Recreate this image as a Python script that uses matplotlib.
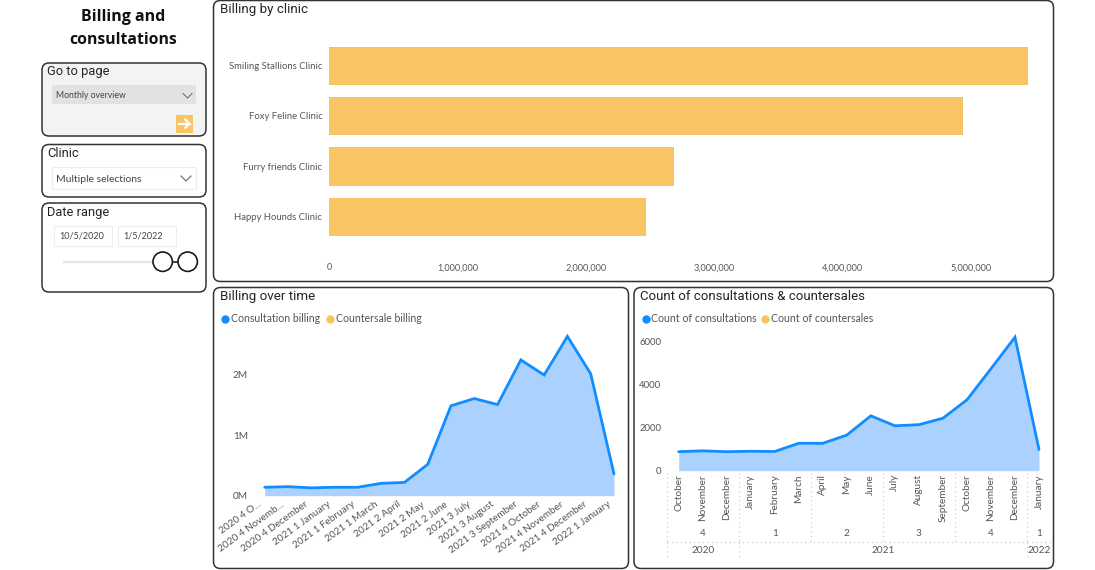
import matplotlib
matplotlib.use("Agg")
import matplotlib.pyplot as plt
from matplotlib.patches import FancyBboxPatch, Rectangle, Circle
from matplotlib.transforms import ScaledTranslation

W, H = 1095, 570
BLUE = "#118DFF"
FILL = "#ABD2FE"
GOLD = "#F7C564"
GOLD_EDGE = "#F5BE55"
TXT = "#555555"
DARK = "#252423"
TFONT = "Roboto"
BFONT = "Lato"

clinics = ["Happy Hounds Clinic", "Furry friends Clinic", "Foxy Feline Clinic", "Smiling Stallions Clinic"]
clinic_billing = [2457000, 2675000, 4930000, 5437000]
billing_ticks = [0, 1000000, 2000000, 3000000, 4000000, 5000000]

period_labels = ["2020 4 O...", "2020 4 Novemb...", "2020 4 December", "2021 1 January", "2021 1 February",
                 "2021 1 March", "2021 2 April", "2021 2 May", "2021 2 June", "2021 3 July", "2021 3 August",
                 "2021 3 September", "2021 4 October", "2021 4 November", "2021 4 December", "2022 1 January"]
billing_m = [0.14, 0.15, 0.13, 0.14, 0.14, 0.205, 0.22, 0.52, 1.49, 1.61, 1.51, 2.25, 2.0, 2.64, 2.02, 0.36]

months = ["October", "November", "December", "January", "February", "March", "April", "May", "June", "July",
          "August", "September", "October", "November", "December", "January"]
consultations = [880, 920, 880, 900, 890, 1270, 1270, 1650, 2540, 2080, 2130, 2430, 3280, 4720, 6180, 980]
quarters = [("4", 0, 2), ("1", 3, 5), ("2", 6, 8), ("3", 9, 11), ("4", 12, 14), ("1", 15, 15)]
years = [("2020", 0, 2), ("2021", 3, 14), ("2022", 15, 15)]

fig = plt.figure(figsize=(W / 100, H / 100), dpi=100, facecolor="white")
bg = fig.add_axes([0, 0, 1, 1])
bg.set_xlim(0, W); bg.set_ylim(H, 0); bg.axis("off")


def panel(x0, y0, x1, y1, face="white", r=7):
    bg.add_patch(FancyBboxPatch((x0 + r, y0 + r), x1 - x0 - 2 * r, y1 - y0 - 2 * r,
                                boxstyle=f"round,pad={r},rounding_size={r}", fc=face, ec="#333333", lw=1.1))


def axes_px(x0, y0, x1, y1):
    ax = fig.add_axes([x0 / W, 1 - y1 / H, (x1 - x0) / W, (y1 - y0) / H])
    ax.patch.set_alpha(0)
    for s in ax.spines.values():
        s.set_visible(False)
    return ax


def label(x, y, s, size=8, color=TXT, font=BFONT, **kw):
    kw.setdefault("va", "center")
    bg.text(x, y, s, fontsize=size, color=color, family=font, **kw)


# side column
label(123.5, 17, "Billing and", 11.5, "#111111", "Open Sans", ha="center", fontweight="bold")
label(123.5, 40, "consultations", 11.3, "#111111", "Open Sans", ha="center", fontweight="bold")

panel(42, 63, 206, 136, face="#F3F3F3")
label(47, 72, "Go to page", 9.3, DARK, TFONT)
bg.add_patch(Rectangle((51.5, 85), 144.5, 19, fc="#E2E2E2", ec="none"))
label(56, 96, "Monthly overview", 6.2, "#444444")
bg.plot([183, 187.5, 192], [93.5, 98, 93.5], color="#666666", lw=0.7)
bg.add_patch(Rectangle((175.5, 115), 17, 17.5, fc=GOLD, ec="none"))
bg.plot([178.5, 189.5], [123.7, 123.7], color="white", lw=1.6)
bg.plot([185.3, 189.5, 185.3], [119.6, 123.7, 127.8], color="white", lw=1.6)

panel(42, 144.5, 206, 197)
label(47, 153.5, "Clinic", 9.3, DARK, TFONT)
bg.add_patch(Rectangle((51.5, 167), 144, 21.5, fc="white", ec="#EDEDED", lw=0.8))
label(56, 179.5, "Multiple selections", 7.5, "#444444")
bg.plot([181, 186, 191], [176, 181, 176], color="#666666", lw=0.8)

panel(42, 203, 206, 292)
label(47, 212.5, "Date range", 9.3, DARK, TFONT)
bg.add_patch(Rectangle((54, 225.5), 58, 20, fc="white", ec="#EDEDED", lw=0.8))
bg.add_patch(Rectangle((117.5, 225.5), 58, 20, fc="white", ec="#EDEDED", lw=0.8))
label(59.7, 236, "10/5/2020", 6.5, "#444444")
label(123, 236, "1/5/2022", 6.5, "#444444")
bg.plot([64, 160], [261.5, 261.5], color="#E6E6E6", lw=1.6, zorder=1)
bg.plot([170, 182], [261.5, 261.5], color="#222222", lw=1.2, zorder=1)
bg.add_patch(Circle((162.7, 261.7), 9.7, fc="white", ec="#1a1a1a", lw=1.2, zorder=2))
bg.add_patch(Circle((187.7, 261.7), 9.7, fc="white", ec="#1a1a1a", lw=1.2, zorder=2))

# top bar panel
panel(213.5, 0.5, 1053.5, 281.5)
label(220.5, 9.5, "Billing by clinic", 9.6, DARK, TFONT)
ax1 = axes_px(329.2, 40.1, 1040, 241.7)
ax1.barh(range(len(clinics)), clinic_billing, height=0.745, color=GOLD, edgecolor=GOLD_EDGE, linewidth=0.6)
ax1.set_xlim(0, 710.8 / 128.4 * 1e6)
ax1.set_ylim(-0.5, 3.5)
ax1.set_yticks(range(len(clinics)), clinics)
ax1.set_xticks(billing_ticks, [f"{v:,}" for v in billing_ticks])
ax1.tick_params(length=0, labelsize=6.85, labelcolor=TXT)
ax1.tick_params(axis="y", pad=5)
ax1.tick_params(axis="x", pad=15.5, labelsize=6.6)
for t in ax1.get_xticklabels() + ax1.get_yticklabels():
    t.set_family(BFONT)


def area(ax, values):
    xs = list(range(len(values)))
    ax.fill_between(xs, values, 0, color=FILL, lw=0)
    ax.plot(xs, values, color=BLUE, lw=2, solid_joinstyle="miter", solid_capstyle="round", clip_on=False)
    ax.set_xlim(0, len(values) - 1)
    ax.set_ylim(0, None)


def legend(y, items):
    for cx, tx, s, c in items:
        bg.plot([cx], [y], "o", ms=6, color=c, mec="none")
        label(tx, y, s, 7.6, "#555555")


# billing over time
panel(213.5, 287.5, 628.5, 568.5)
label(220.5, 296.5, "Billing over time", 9.6, DARK, TFONT)
legend(318.5, [(225, 230.7, "Consultation billing", BLUE), (329.7, 335.5, "Countersale billing", GOLD)])
ax2 = axes_px(264.7, 332, 614, 495.7)
area(ax2, billing_m)
ax2.set_ylim(0, 163.7 / 60.35)
ax2.set_yticks([0, 1, 2], ["0M", "1M", "2M"])
ax2.set_xticks(range(len(period_labels)), period_labels, rotation=36, ha="right", rotation_mode="anchor")
ax2.tick_params(length=0, labelsize=7.2, labelcolor=TXT)
ax2.tick_params(axis="y", pad=12)
ax2.tick_params(axis="x", pad=3)
shift = ScaledTranslation(-5 / 72, 0, fig.dpi_scale_trans)
for t in ax2.get_xticklabels():
    t.set_transform(t.get_transform() + shift)
for t in ax2.get_xticklabels() + ax2.get_yticklabels():
    t.set_family(BFONT)

# counts
panel(634, 287.5, 1053.5, 568.5)
label(640.5, 296.5, "Count of consultations & countersales", 9.5, DARK, TFONT)
legend(318.5, [(645.5, 651, "Count of consultations", BLUE), (765, 771, "Count of countersales", GOLD)])
ax3 = axes_px(678.7, 332, 1039, 470.7)
area(ax3, consultations)
ax3.set_ylim(0, 138.7 / 43.2 * 2000)
ax3.set_yticks([0, 2000, 4000, 6000], ["0", "2000", "4000", "6000"])
ax3.set_xticks(range(len(months)), months, rotation=90, ha="center", va="top")
ax3.tick_params(length=0, labelsize=7.2, labelcolor=TXT)
ax3.tick_params(axis="y", pad=12.5, labelsize=6.9)
ax3.tick_params(axis="x", pad=2.5)
for t in ax3.get_xticklabels() + ax3.get_yticklabels():
    t.set_family(BFONT)

# hierarchical axis, x in category units via blended transform
tr = ax3.get_xaxis_transform()
px = lambda y: 1 - (y - 332) / (470.7 - 332)
dot = dict(color="#C4C4C4", lw=0.8, ls=(0, (1, 3)), transform=tr, clip_on=False)
for i in [-0.5, 2.5, 5.5, 8.5, 11.5, 14.5]:
    ax3.plot([i, i], [px(473), px(541.5)], **dot)
for i in [-0.5, 2.5, 14.5]:
    ax3.plot([i, i], [px(541.5), px(558)], **dot)
ax3.plot([-0.5, 15.5], [px(541.5), px(541.5)], **dot)
for s, a, b in quarters:
    ax3.text((a + b) / 2, px(534), s, transform=tr, ha="center", va="center", fontsize=7.2, color=TXT, family=BFONT)
for s, a, b in years:
    ax3.text((a + b) / 2, px(550.5), s, transform=tr, ha="center", va="center", fontsize=7.2, color=TXT, family=BFONT)

fig.savefig("out.png", dpi=100)
